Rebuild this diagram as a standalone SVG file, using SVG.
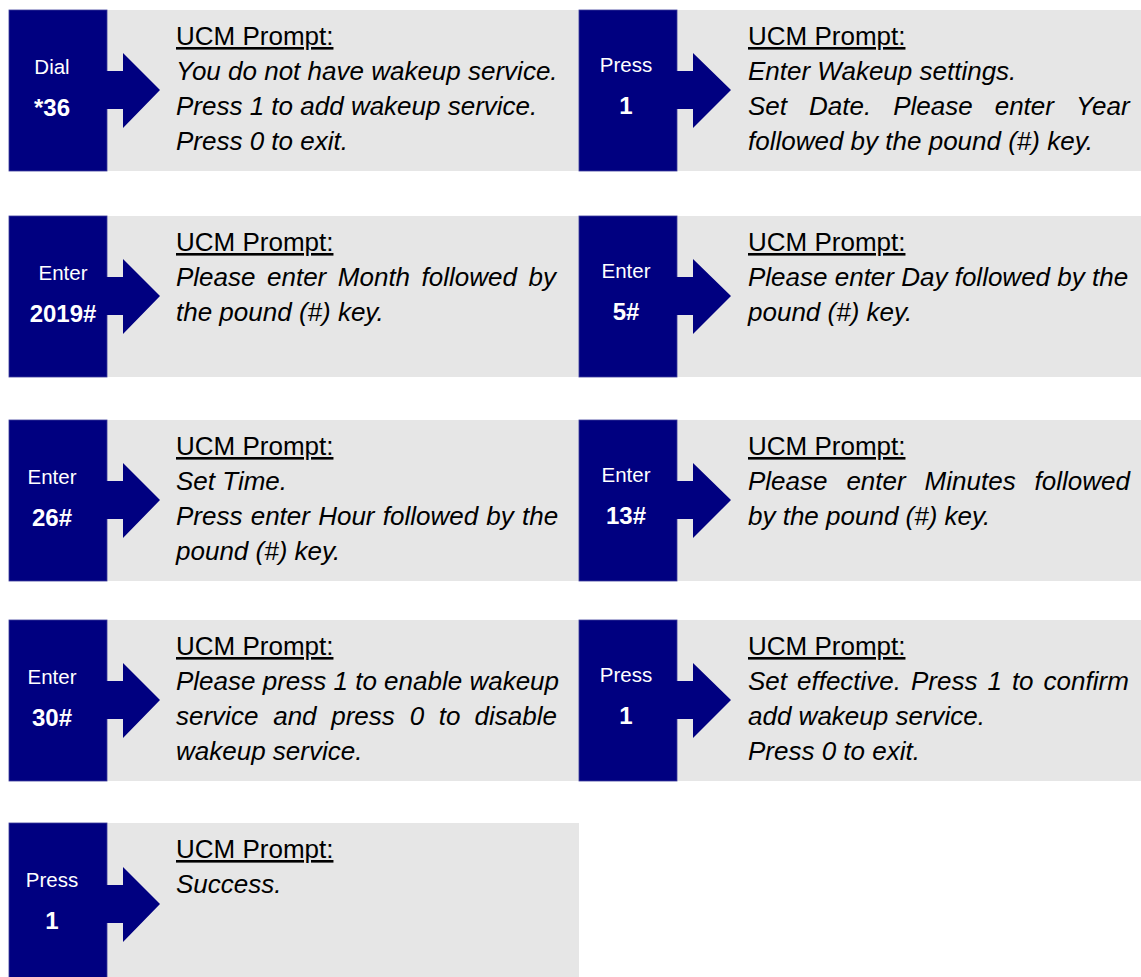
<svg xmlns="http://www.w3.org/2000/svg" width="1141" height="977" viewBox="0 0 1141 977">
<style>
.bg{fill:#e6e6e6}
.nv{fill:#000080;stroke:#3a3a9a;stroke-width:0.8}
.ar{fill:#000080}
.lab{font-family:"Liberation Sans",Arial,sans-serif;font-size:20.5px;fill:#ffffff;text-anchor:middle}
.val{font-family:"Liberation Sans",Arial,sans-serif;font-size:24px;font-weight:bold;fill:#ffffff;text-anchor:middle}
.hd{font-family:"Liberation Sans",Arial,sans-serif;font-size:26px;fill:#000000;text-decoration:underline}
.tx{font-family:"Liberation Sans",Arial,sans-serif;font-size:26px;font-style:italic;fill:#000000}
</style>
<rect width="1141" height="977" fill="#ffffff"/>

<g id="node-dial-36">
<rect class="bg" x="9" y="10" width="570" height="161"/>
<rect class="nv" x="9" y="10" width="98" height="161"/>
<text class="lab" x="52" y="74">Dial</text>
<text class="val" x="52" y="116">*36</text>
<text class="hd" x="176" y="45">UCM Prompt:</text>
<text class="tx" x="176" y="80">You do not have wakeup service.</text>
<text class="tx" x="176" y="115">Press 1 to add wakeup service.</text>
<text class="tx" x="176" y="150">Press 0 to exit.</text>
</g>

<g id="node-press-1a">
<rect class="bg" x="579" y="10" width="562" height="161"/>
<rect class="nv" x="579" y="10" width="98" height="161"/>
<text class="lab" x="626" y="72">Press</text>
<text class="val" x="626" y="114">1</text>
<text class="hd" x="748" y="45">UCM Prompt:</text>
<text class="tx" x="748" y="80">Enter Wakeup settings.</text>
<text class="tx" y="115"><tspan x="748">Set</tspan><tspan x="809.1">Date.</tspan><tspan x="893.2">Please</tspan><tspan x="994.7">enter</tspan><tspan x="1076.1">Year</tspan></text>
<text class="tx" x="748" y="150">followed by the pound (#) key.</text>
</g>

<g id="node-enter-2019">
<rect class="bg" x="9" y="216" width="570" height="161"/>
<rect class="nv" x="9" y="216" width="98" height="161"/>
<text class="lab" x="63" y="280">Enter</text>
<text class="val" x="63" y="322">2019#</text>
<text class="hd" x="176" y="251">UCM Prompt:</text>
<text class="tx" y="286"><tspan x="176">Please</tspan><tspan x="267">enter</tspan><tspan x="337.8">Month</tspan><tspan x="421.6">followed</tspan><tspan x="528.5">by</tspan></text>
<text class="tx" x="176" y="321">the pound (#) key.</text>
</g>

<g id="node-enter-5">
<rect class="bg" x="579" y="216" width="562" height="161"/>
<rect class="nv" x="579" y="216" width="98" height="161"/>
<text class="lab" x="626" y="278">Enter</text>
<text class="val" x="626" y="320">5#</text>
<text class="hd" x="748" y="251">UCM Prompt:</text>
<text class="tx" x="748" y="286">Please enter Day followed by the</text>
<text class="tx" x="748" y="321">pound (#) key.</text>
</g>

<g id="node-enter-26">
<rect class="bg" x="9" y="420" width="570" height="161"/>
<rect class="nv" x="9" y="420" width="98" height="161"/>
<text class="lab" x="52" y="484">Enter</text>
<text class="val" x="52" y="526">26#</text>
<text class="hd" x="176" y="455">UCM Prompt:</text>
<text class="tx" x="176" y="490">Set Time.</text>
<text class="tx" x="176" y="525" word-spacing="1">Press enter Hour followed by the</text>
<text class="tx" x="176" y="560">pound (#) key.</text>
</g>

<g id="node-enter-13">
<rect class="bg" x="579" y="420" width="562" height="161"/>
<rect class="nv" x="579" y="420" width="98" height="161"/>
<text class="lab" x="626" y="482">Enter</text>
<text class="val" x="626" y="524">13#</text>
<text class="hd" x="748" y="455">UCM Prompt:</text>
<text class="tx" y="490"><tspan x="748">Please</tspan><tspan x="846.4">enter</tspan><tspan x="924.6">Minutes</tspan><tspan x="1034.5">followed</tspan></text>
<text class="tx" x="748" y="525">by the pound (#) key.</text>
</g>

<g id="node-enter-30">
<rect class="bg" x="9" y="620" width="570" height="161"/>
<rect class="nv" x="9" y="620" width="98" height="161"/>
<text class="lab" x="52" y="684">Enter</text>
<text class="val" x="52" y="726">30#</text>
<text class="hd" x="176" y="655">UCM Prompt:</text>
<text class="tx" x="176" y="690">Please press 1 to enable wakeup</text>
<text class="tx" y="725"><tspan x="176">service</tspan><tspan x="273.2">and</tspan><tspan x="331.2">press</tspan><tspan x="409.8">0</tspan><tspan x="438.8">to</tspan><tspan x="474.5">disable</tspan></text>
<text class="tx" x="176" y="760">wakeup service.</text>
</g>

<g id="node-press-1b">
<rect class="bg" x="579" y="620" width="562" height="161"/>
<rect class="nv" x="579" y="620" width="98" height="161"/>
<text class="lab" x="626" y="682">Press</text>
<text class="val" x="626" y="724">1</text>
<text class="hd" x="748" y="655">UCM Prompt:</text>
<text class="tx" x="748" y="690" word-spacing="2.75">Set effective. Press 1 to confirm</text>
<text class="tx" x="748" y="725">add wakeup service.</text>
<text class="tx" x="748" y="760">Press 0 to exit.</text>
</g>

<g id="node-press-1c">
<rect class="bg" x="9" y="823" width="570" height="160"/>
<rect class="nv" x="9" y="823" width="98" height="160"/>
<text class="lab" x="52" y="887">Press</text>
<text class="val" x="52" y="929">1</text>
<text class="hd" x="176" y="858">UCM Prompt:</text>
<text class="tx" x="176" y="893">Success.</text>
</g>

<g id="connectors">
<polygon class="ar" points="106,71 123,71 123,53 160,90 123,128 123,109 106,109"/>
<polygon class="ar" points="676,71 693,71 693,53 731,90 693,128 693,109 676,109"/>
<polygon class="ar" points="106,277 123,277 123,259 160,296 123,334 123,315 106,315"/>
<polygon class="ar" points="676,277 693,277 693,259 731,296 693,334 693,315 676,315"/>
<polygon class="ar" points="106,481 123,481 123,463 160,500 123,538 123,519 106,519"/>
<polygon class="ar" points="676,481 693,481 693,463 731,500 693,538 693,519 676,519"/>
<polygon class="ar" points="106,681 123,681 123,663 160,700 123,738 123,719 106,719"/>
<polygon class="ar" points="676,681 693,681 693,663 731,700 693,738 693,719 676,719"/>
<polygon class="ar" points="106,885 123,885 123,867 160,904 123,942 123,923 106,923"/>
</g>
</svg>
